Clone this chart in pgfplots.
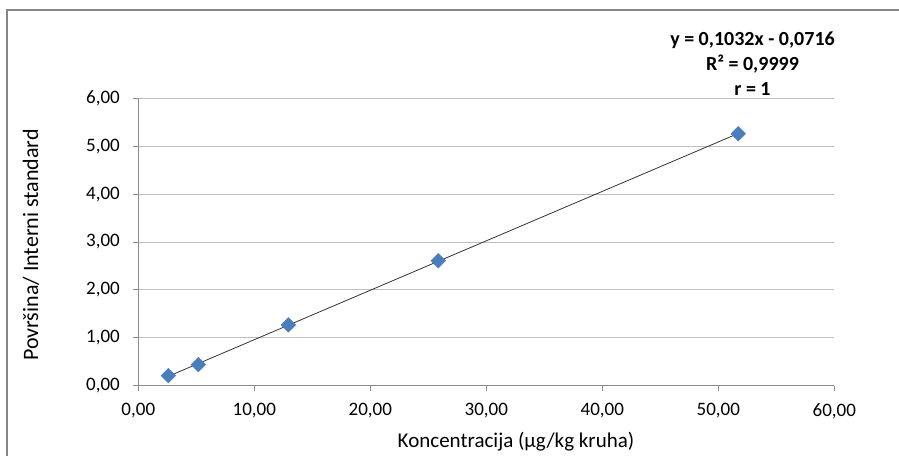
\documentclass[border=0pt]{standalone}
\usepackage{fontspec}
\setmainfont{Carlito}
\usepackage{pgfplots}
\pgfplotsset{compat=1.18}

\definecolor{framegray}{RGB}{134,134,134}
\definecolor{gridgray}{RGB}{190,190,190}
\definecolor{axisgray}{RGB}{140,140,140}
\definecolor{markblue}{RGB}{74,126,187}

\begin{document}
\begin{tikzpicture}[x=1bp,y=1bp]
  % page size and outer chart frame
  \useasboundingbox (0,0) rectangle (899,456);
  \draw[framegray, line width=2bp] (7,-5) -- (7,446) -- (905,446);

  \begin{axis}[
    anchor=south west, at={(138.3bp,70.3bp)},
    width=696bp, height=287.4bp, scale only axis,
    xmin=0, xmax=60, ymin=0, ymax=6,
    xtick={0,10,...,60}, ytick={0,1,...,6},
    axis x line*=bottom, axis y line*=left,
    axis line style={axisgray, line width=0.8bp, -},
    ymajorgrids, major grid style={gridgray, line width=0.8bp},
    tick align=outside, major tick length=5bp,
    tick style={axisgray, line width=0.8bp},
    x tick label style={font=\fontsize{19bp}{21bp}\selectfont},
    y tick label style={font=\fontsize{19bp}{21bp}\selectfont},
    xticklabel style={yshift=-9bp},
    yticklabel style={xshift=-10bp},
    /pgf/number format/.cd, fixed, fixed zerofill, precision=2, use comma,
      assume math mode=true,
    /pgfplots/.cd,
    clip=false,
  ]
    % calibration points
    \addplot[only marks, mark=square*,
      mark options={rotate=45, fill=markblue, draw=markblue},
      mark size=5.2bp]
      coordinates {(2.59,0.21) (5.17,0.44) (12.93,1.27) (25.86,2.61) (51.72,5.26)};
    % linear trendline y = 0.1032x - 0.0716
    \addplot[black!80, line width=0.8bp]
      coordinates {(2.59,0.1957) (51.72,5.2659)};
  \end{axis}

  % axis titles
  \node[font=\fontsize{21bp}{23bp}\selectfont] at (516,14.3) {Koncentracija (µg/kg kruha)};
  \node[font=\fontsize{22bp}{24bp}\selectfont, rotate=90] at (31,211) {Površina/ Interni standard};

  % trendline equation
  \node[font=\bfseries\fontsize{20bp}{25bp}\selectfont, align=center] at (752.5,392)
    {y = 0,1032x - 0,0716\\R² = 0,9999\\r = 1};
\end{tikzpicture}
\end{document}
